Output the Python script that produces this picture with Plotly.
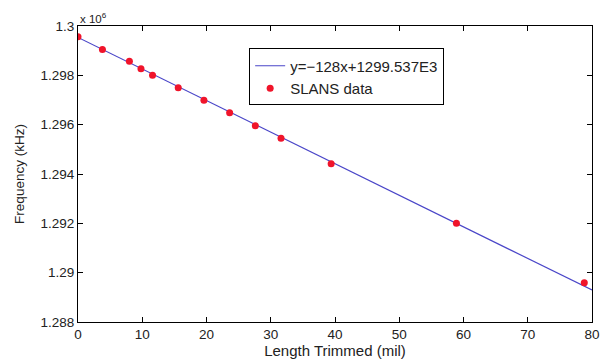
import plotly.graph_objects as go

# Data (frequency in kHz)
length_mil = [0, 3.8, 8.0, 9.8, 11.6, 15.6, 19.6, 23.6, 27.6, 31.6, 39.4, 58.9, 78.8]
freq_khz = [1299560, 1299050, 1298570, 1298270, 1298000, 1297500, 1296990,
            1296480, 1295960, 1295450, 1294420, 1292000, 1289590]

fit_slope = -128
fit_intercept = 1299537
fit_x = [0, 80]

ytick_vals = [1.288, 1.290, 1.292, 1.294, 1.296, 1.298, 1.300]
ytick_text = ["1.288", "1.29", "1.292", "1.294", "1.296", "1.298", "1.3"]
xtick_vals = [0, 10, 20, 30, 40, 50, 60, 70, 80]

scale = 1e6
fit_y = [(fit_slope * x + fit_intercept) / scale for x in fit_x]
freq_scaled = [f / scale for f in freq_khz]

fig = go.Figure()
fig.add_trace(go.Scatter(x=fit_x, y=fit_y, mode="lines",
                         line=dict(color="#4a46c8", width=1.2),
                         name="y=\u2212128x+1299.537E3"))
fig.add_trace(go.Scatter(x=length_mil, y=freq_scaled, mode="markers",
                         marker=dict(color="#f0142a", size=7),
                         name="SLANS data"))

axis_common = dict(showline=True, linecolor="black", linewidth=1.2, mirror="allticks",
                   ticks="inside", ticklen=5, tickcolor="black", showgrid=False,
                   zeroline=False, tickfont=dict(size=13.5, color="#222"))

fig.update_xaxes(range=[0, 80], tickvals=xtick_vals,
                 title=dict(text="Length Trimmed (mil)", font=dict(size=15, color="#222"), standoff=0),
                 **axis_common)
fig.update_yaxes(range=[1.288, 1.300], tickvals=ytick_vals, ticktext=ytick_text,
                 title=dict(text="Frequency (kHz)", font=dict(size=13.5, color="#222"), standoff=12),
                 **axis_common)

fig.add_annotation(x=0, y=1, xref="paper", yref="paper", xanchor="left", yanchor="bottom",
                   text="x 10<sup>6</sup>", showarrow=False, font=dict(size=11.5, color="#222"),
                   yshift=-1)

fig.update_layout(
    width=608, height=361,
    margin=dict(l=78, r=8, t=26, b=32),
    paper_bgcolor="white", plot_bgcolor="white",
    font=dict(family="Liberation Sans, Arial, sans-serif"),
    legend=dict(x=0.333, y=0.924, xanchor="left", yanchor="top",
                bordercolor="black", borderwidth=1, bgcolor="white",
                font=dict(size=15, color="#222"), tracegroupgap=0,
                itemwidth=30),
    showlegend=True,
)

fig.write_html("out.html")
